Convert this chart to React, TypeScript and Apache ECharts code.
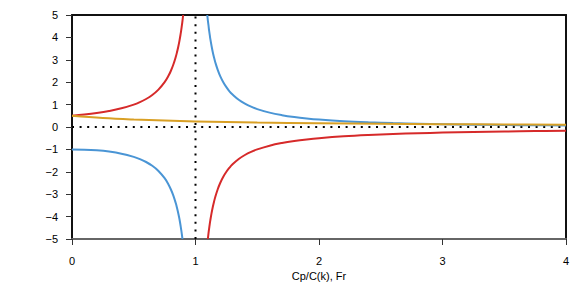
import React, { useEffect, useRef } from "react";
import * as echarts from "echarts";

// x = Cp/C(k), Fr ; y values of each curve
const redLeftX = [0, 0.1, 0.2, 0.3, 0.4, 0.5, 0.55, 0.6, 0.65, 0.7, 0.75, 0.78, 0.8, 0.82, 0.84, 0.85, 0.86, 0.87, 0.88, 0.885, 0.89, 0.895, 0.9];
const redLeftY = [0.5, 0.5556, 0.625, 0.7143, 0.8333, 1.0, 1.1111, 1.25, 1.4286, 1.6667, 2.0, 2.2727, 2.5, 2.7778, 3.125, 3.3333, 3.5714, 3.8462, 4.1667, 4.3478, 4.5455, 4.7619, 5.0];
const redRightX = [1.1, 1.105, 1.11, 1.115, 1.12, 1.13, 1.14, 1.15, 1.16, 1.18, 1.2, 1.225, 1.25, 1.275, 1.3, 1.35, 1.4, 1.45, 1.5, 1.6, 1.7, 1.8, 1.9, 2.0, 2.2, 2.4, 2.6, 2.8, 3.0, 3.25, 3.5, 3.75, 4.0];
const redRightY = [-5.0, -4.7619, -4.5455, -4.3478, -4.1667, -3.8462, -3.5714, -3.3333, -3.125, -2.7778, -2.5, -2.2222, -2.0, -1.8182, -1.6667, -1.4286, -1.25, -1.1111, -1.0, -0.8333, -0.7143, -0.625, -0.5556, -0.5, -0.4167, -0.3571, -0.3125, -0.2778, -0.25, -0.2222, -0.2, -0.1818, -0.1667];

const blueLeftX = [0, 0.1, 0.2, 0.3, 0.4, 0.5, 0.55, 0.6, 0.65, 0.7, 0.75, 0.78, 0.8, 0.82, 0.84, 0.85, 0.86, 0.87, 0.88, 0.885, 0.89, 0.8944];
const blueLeftY = [-1.0, -1.0101, -1.0417, -1.0989, -1.1905, -1.3333, -1.4337, -1.5625, -1.7316, -1.9608, -2.2857, -2.5536, -2.7778, -3.0525, -3.3967, -3.6036, -3.8402, -4.1068, -4.4326, -4.6188, -4.81, -5.0];
const blueRightX = [1.0954, 1.1, 1.105, 1.11, 1.115, 1.12, 1.13, 1.14, 1.15, 1.16, 1.18, 1.2, 1.225, 1.25, 1.275, 1.3, 1.35, 1.4, 1.45, 1.5, 1.6, 1.7, 1.8, 1.9, 2.0, 2.2, 2.4, 2.6, 2.8, 3.0, 3.25, 3.5, 3.75, 4.0];
const blueRightY = [5.0, 4.7619, 4.5523, 4.3085, 4.1246, 3.9308, 3.6166, 3.3378, 3.1008, 2.8935, 2.5484, 2.2727, 2.0002, 1.7778, 1.5918, 1.4493, 1.2158, 1.0417, 0.9070, 0.8, 0.641, 0.5291, 0.4464, 0.3831, 0.3333, 0.2604, 0.2101, 0.1736, 0.1462, 0.125, 0.1046, 0.0889, 0.0766, 0.0667];

const orangeX = [0, 0.25, 0.5, 0.75, 1.0, 1.5, 2.0, 2.5, 3.0, 3.5, 4.0];
const orangeY = [0.5, 0.4, 0.3333, 0.2857, 0.25, 0.2, 0.1667, 0.1429, 0.125, 0.1111, 0.1];

const vLineX = [1, 1];
const vLineY = [-5, 5];
const hLineX = [0, 4];
const hLineY = [0, 0];

const xTicks = [0, 1, 2, 3, 4];
const yTicks = [-5, -4, -3, -2, -1, 0, 1, 2, 3, 4, 5];
const xName = "Cp/C(k), Fr";

const RED = "#d62a2a";
const BLUE = "#4a95d5";
const ORANGE = "#d9a025";

const zip = (xs: number[], ys: number[]) => xs.map((x, i) => [x, ys[i]]);
const fmt = (v: number) => (v < 0 ? "\u2212" + Math.abs(v) : String(v));
const FONT = "Liberation Sans, Arial, sans-serif";

export default function App() {
  const ref = useRef<HTMLDivElement>(null);
  useEffect(() => {
    const chart = echarts.init(ref.current!, null, { renderer: "svg" });
    const curve = (data: number[][], color: string, z: number) => ({
      type: "line",
      data,
      showSymbol: false,
      symbol: "none",
      smooth: 0.4,
      clip: true,
      z,
      lineStyle: { color, width: 2 },
    });
    const dotted = (data: number[][]) => ({
      type: "line",
      data,
      symbol: "none",
      z: 1,
      lineStyle: { color: "#000", width: 2, type: [2, 5.6] },
    });
    chart.setOption({
      animation: false,
      textStyle: { fontFamily: FONT },
      grid: { left: 72, right: 15, top: 15, bottom: 52 },
      xAxis: [
        {
          type: "value",
          min: xTicks[0],
          max: xTicks[xTicks.length - 1],
          interval: 1,
          position: "bottom",
          name: xName,
          nameLocation: "middle",
          nameGap: 31,
          nameTextStyle: { color: "#000", fontSize: 11, fontFamily: FONT },
          axisLine: { onZero: false, lineStyle: { color: "#666", width: 2 } },
          axisTick: { length: 6, lineStyle: { color: "#333", width: 1 } },
          axisLabel: { margin: 16, color: "#000", fontSize: 11, fontFamily: FONT, formatter: fmt },
          splitLine: { show: false },
        },
        {
          type: "value",
          min: xTicks[0],
          max: xTicks[xTicks.length - 1],
          position: "top",
          axisLine: { onZero: false, lineStyle: { color: "#111", width: 2 } },
          axisTick: { show: false },
          axisLabel: { show: false },
          splitLine: { show: false },
        },
      ],
      yAxis: [
        {
          type: "value",
          min: yTicks[0],
          max: yTicks[yTicks.length - 1],
          interval: 1,
          position: "left",
          axisLine: { show: true, onZero: false, lineStyle: { color: "#111", width: 2 } },
          axisTick: { show: true, length: 6, lineStyle: { color: "#333", width: 1 } },
          axisLabel: { margin: 14, color: "#000", fontSize: 11, fontFamily: FONT, formatter: fmt },
          splitLine: { show: false },
        },
        {
          type: "value",
          min: yTicks[0],
          max: yTicks[yTicks.length - 1],
          position: "right",
          axisLine: { show: true, onZero: false, lineStyle: { color: "#111", width: 2 } },
          axisTick: { show: false },
          axisLabel: { show: false },
          splitLine: { show: false },
        },
      ],
      series: [
        dotted(zip(hLineX, hLineY)),
        dotted(zip(vLineX, vLineY)),
        curve(zip(redLeftX, redLeftY), RED, 2),
        curve(zip(redRightX, redRightY), RED, 2),
        curve(zip(blueLeftX, blueLeftY), BLUE, 3),
        curve(zip(blueRightX, blueRightY), BLUE, 3),
        curve(zip(orangeX, orangeY), ORANGE, 4),
      ],
    });
    return () => chart.dispose();
  }, []);
  return (
    <div
      ref={ref}
      style={{ position: "fixed", left: 0, top: 0, width: 581, height: 291, background: "#fff" }}
    />
  );
}
